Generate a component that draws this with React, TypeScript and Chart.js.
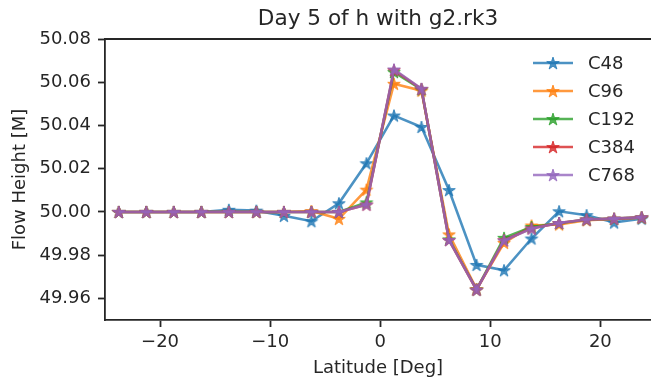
import React, { useEffect, useRef } from "react";
import { Chart, registerables } from "chart.js";

Chart.register(...registerables);

const latitudes = [-23.75, -21.25, -18.75, -16.25, -13.75, -11.25, -8.75, -6.25, -3.75, -1.25, 1.25, 3.75, 6.25, 8.75, 11.25, 13.75, 16.25, 18.75, 21.25, 23.75];

const c48 = [50.0, 50.0, 50.0, 50.0, 50.001, 50.0006, 49.9982, 49.9957, 50.004, 50.0225, 50.0446, 50.0393, 50.0101, 49.9755, 49.973, 49.9877, 50.0003, 49.9985, 49.9951, 49.9969];
const c96 = [50.0, 50.0, 50.0, 50.0, 50.0, 50.0, 50.0, 50.0004, 49.9968, 50.0103, 50.0593, 50.0561, 49.9896, 49.9643, 49.9857, 49.9937, 49.9942, 49.9962, 49.9968, 49.9973];
const c192 = [50.0, 50.0, 50.0, 50.0, 50.0, 50.0, 50.0, 50.0, 50.0, 50.0044, 50.0647, 50.0567, 49.9873, 49.9641, 49.988, 49.993, 49.9948, 49.9965, 49.9969, 49.9975];
const c384 = [50.0, 50.0, 50.0, 50.0, 50.0, 50.0, 50.0, 50.0, 50.0, 50.0034, 50.0656, 50.0569, 49.987, 49.964, 49.9869, 49.9924, 49.9949, 49.9965, 49.9969, 49.9975];
const c768 = [50.0, 50.0, 50.0, 50.0, 50.0, 50.0, 50.0, 50.0, 50.0, 50.0034, 50.0659, 50.057, 49.987, 49.964, 49.9868, 49.9923, 49.9949, 49.9965, 49.9969, 49.9975];

const seriesLabels = ["C48", "C96", "C192", "C384", "C768"];
const seriesValues = [c48, c96, c192, c384, c768];
const seriesColors = ["31,119,180", "255,127,14", "44,160,44", "214,39,40", "148,103,189"];

const xTicks = [-20, -10, 0, 10, 20];
const yTicks = [49.96, 49.98, 50.0, 50.02, 50.04, 50.06, 50.08];

const FONT = "'DejaVu Sans', sans-serif";
const INK = "#262626";

function makeStar(rgb: string, r: number) {
  const size = Math.ceil(2 * r + 4);
  const c = document.createElement("canvas");
  c.width = size;
  c.height = size;
  const ctx = c.getContext("2d")!;
  const cx = size / 2;
  const cy = size / 2 + 0.6;
  const inner = r * 0.381966;
  ctx.beginPath();
  for (let i = 0; i < 10; i++) {
    const rad = i % 2 === 0 ? r : inner;
    const a = -Math.PI / 2 + (i * Math.PI) / 5;
    const px = cx + rad * Math.cos(a);
    const py = cy + rad * Math.sin(a);
    if (i === 0) ctx.moveTo(px, py);
    else ctx.lineTo(px, py);
  }
  ctx.closePath();
  ctx.fillStyle = `rgba(${rgb},0.8)`;
  ctx.fill();
  ctx.lineWidth = 1;
  ctx.strokeStyle = `rgba(${rgb},0.8)`;
  ctx.stroke();
  return c;
}

export default function App() {
  const ref = useRef<HTMLCanvasElement | null>(null);

  useEffect(() => {
    if (!ref.current) return;
    const stars = seriesColors.map((c) => makeStar(c, 6.6));

    const topSpine = {
      id: "topSpine",
      afterDraw(chart: any) {
        const { ctx, chartArea } = chart;
        ctx.save();
        ctx.strokeStyle = INK;
        ctx.lineWidth = 1.8;
        ctx.beginPath();
        ctx.moveTo(chartArea.left - 0.9, chartArea.top);
        ctx.lineTo(chartArea.right, chartArea.top);
        ctx.stroke();
        ctx.restore();
      },
    };

    const lineLegend = {
      id: "lineLegend",
      afterDraw(chart: any) {
        const { ctx, chartArea } = chart;
        ctx.save();
        const x0 = chartArea.right - 118;
        chart.data.datasets.forEach((ds: any, i: number) => {
          const y = chartArea.top + 24 + i * 28;
          ctx.strokeStyle = ds.borderColor;
          ctx.lineWidth = ds.borderWidth;
          ctx.beginPath();
          ctx.moveTo(x0, y);
          ctx.lineTo(x0 + 40, y);
          ctx.stroke();
          const img = stars[i];
          ctx.drawImage(img, x0 + 20 - img.width / 2, y - img.height / 2);
          ctx.fillStyle = INK;
          ctx.font = `18px ${FONT}`;
          ctx.textBaseline = "middle";
          ctx.textAlign = "left";
          ctx.fillText(ds.label, x0 + 55, y + 1);
        });
        ctx.restore();
      },
    };

    const chart = new Chart(ref.current, {
      type: "line",
      data: {
        datasets: seriesLabels.map((label, i) => ({
          label,
          data: latitudes.map((x, j) => ({ x, y: seriesValues[i][j] })),
          borderColor: `rgba(${seriesColors[i]},0.8)`,
          backgroundColor: `rgba(${seriesColors[i]},0.8)`,
          borderWidth: 2.6,
          pointStyle: stars[i],
          pointRadius: 6,
          tension: 0,
          fill: false,
          order: seriesLabels.length - i,
        })),
      },
      options: {
        animation: false,
        responsive: false,
        devicePixelRatio: 1,
        layout: { padding: 0, autoPadding: false },
        plugins: {
          legend: { display: false },
          tooltip: { enabled: false },
          title: {
            display: true,
            text: "Day 5 of h with g2.rk3",
            color: INK,
            fullSize: false,
            font: { family: FONT, size: 21.6, weight: "normal" },
            padding: { top: 6.3, bottom: 6.8 },
          },
        },
        scales: {
          x: {
            type: "linear",
            min: -25,
            max: 24.6,
            afterBuildTicks: (scale: any) => {
              scale.ticks = xTicks.map((v) => ({ value: v }));
            },
            afterFit: (scale: any) => {
              scale.height = 63;
              scale.paddingLeft = 0;
              scale.paddingRight = 0;
            },
            grid: { display: true, drawOnChartArea: false, tickLength: 7, tickWidth: 1.8, tickColor: INK },
            border: { display: true, color: INK, width: 1.8 },
            ticks: {
              color: INK,
              padding: 5,
              font: { family: FONT, size: 18 },
              callback: (v: any) => (v < 0 ? "\u2212" + Math.abs(v) : String(v)),
            },
            title: {
              display: true,
              text: "Latitude [Deg]",
              color: INK,
              font: { family: FONT, size: 18 },
              padding: { top: 0, bottom: 4.3 },
            },
          },
          y: {
            type: "linear",
            min: 49.95,
            max: 50.08,
            afterBuildTicks: (scale: any) => {
              scale.ticks = yTicks.map((v) => ({ value: v }));
            },
            afterFit: (scale: any) => {
              scale.width = 105;
            },
            grid: { display: true, drawOnChartArea: false, tickLength: 7, tickWidth: 1.8, tickColor: INK },
            border: { display: true, color: INK, width: 1.8 },
            ticks: {
              color: INK,
              padding: 7,
              font: { family: FONT, size: 18 },
              callback: (v: any) => Number(v).toFixed(2),
            },
            title: {
              display: true,
              text: "Flow Height [M]",
              color: INK,
              font: { family: FONT, size: 18 },
              padding: { top: 9.7, bottom: 0 },
            },
          },
        },
      },
      plugins: [topSpine, lineLegend],
    });
    return () => chart.destroy();
  }, []);

  return (
    <div style={{ position: "absolute", left: 0, top: 0, width: 651, height: 383, background: "#fff" }}>
      <canvas ref={ref} width={651} height={383} />
    </div>
  );
}
